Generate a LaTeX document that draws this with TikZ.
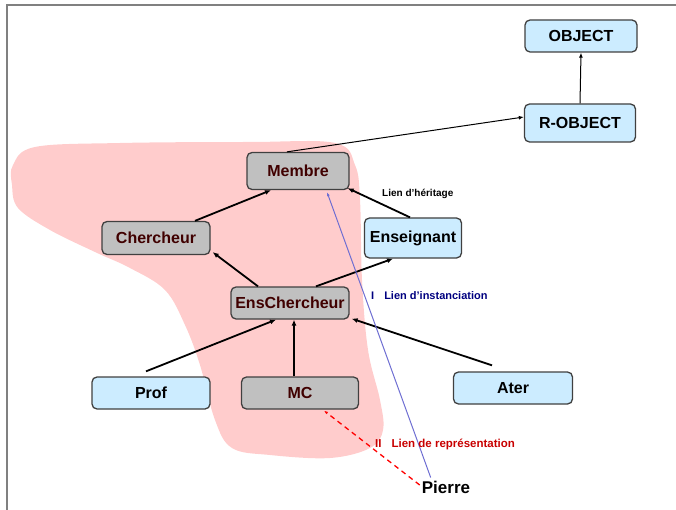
\documentclass[tikz,border=0pt]{standalone}
\usepackage{fontspec}
\setmainfont{Liberation Sans}
\usetikzlibrary{arrows.meta,calc}
\definecolor{blobpink}{RGB}{255,204,204}
\definecolor{boxgray}{RGB}{192,192,192}
\definecolor{boxblue}{RGB}{204,236,255}
\definecolor{boxedge}{RGB}{64,64,64}
\definecolor{maroontext}{RGB}{64,0,0}
\definecolor{instblue}{RGB}{110,110,210}
\definecolor{navytext}{RGB}{0,0,128}
\definecolor{redtext}{RGB}{200,0,0}
\definecolor{framegray}{RGB}{128,128,128}
\tikzset{
  classbox/.style={draw=boxedge, line width=1.3pt, rounded corners=5pt,
    font=\fontsize{16}{16}\selectfont\bfseries, inner sep=0pt},
  graybox/.style={classbox, fill=boxgray, text=maroontext},
  bluebox/.style={classbox, fill=boxblue, text=black},
  inherit/.style={line width=1.8pt, -{Latex[length=6pt,width=5pt]}},
  thinarrow/.style={line width=1pt, -{Latex[length=5pt,width=4pt]}},
  smalllabel/.style={anchor=west, font=\fontsize{10}{10}\selectfont\bfseries, inner sep=0pt}
}
\begin{document}
\begin{tikzpicture}[x=1pt,y=-1pt]
  \useasboundingbox (0,0) rectangle (676,510);
  % frame edges
  \draw[framegray, line width=1.5pt] (7,510) -- (7,5) -- (676,5);

  % highlighted region behind the researcher classes
  \fill[blobpink] plot[smooth cycle, tension=0.6] coordinates {
    (13,165) (35,147) (120,143) (250,142) (335,143) (355,165) (360,200)
    (362,280) (368,350) (380,400) (383,430) (370,448) (330,458) (270,455)
    (232,448) (215,420) (200,365) (185,325) (165,290) (130,268) (95,252)
    (50,230) (18,208) (12,185)};

  % classes
  \node[bluebox, minimum width=112pt, minimum height=32pt] (obj)  at (581,36)  {OBJECT};
  \node[bluebox, minimum width=111pt, minimum height=38pt] (rob)  at (580,123) {R-OBJECT};
  \node[graybox, minimum width=102pt, minimum height=37pt] (memb) at (298,171) {Membre};
  \node[graybox, minimum width=108pt, minimum height=33pt] (ch)   at (156,238) {Chercheur};
  \node[bluebox, minimum width=97pt,  minimum height=40pt] (ens)  at (413,238) {Enseignant};
  \node[graybox, minimum width=118pt, minimum height=32pt] (ench) at (290,303) {EnsChercheur};
  \node[bluebox, minimum width=118pt, minimum height=32pt] (prof) at (151,393) {Prof};
  \node[graybox, minimum width=117pt, minimum height=32pt] (mc)   at (300,393) {MC};
  \node[bluebox, minimum width=119pt, minimum height=32pt] (ater) at (513,388) {Ater};

  % instance
  \node[font=\fontsize{17}{17}\selectfont\bfseries, inner sep=1pt] (pierre) at (446,487) {Pierre};

  % inheritance links
  \draw[thinarrow] ($(memb.north)+(-11,0)$) -- ($(rob.west)+(0,-6)$);
  \draw[thinarrow] (rob.north) -- (obj.south);
  \draw[inherit] ($(ch.north)+(39,0)$) -- ($(memb.south)+(-27,0)$);
  \draw[inherit] ($(ens.north)+(-3,0)$) -- ($(memb.south east)+(-2,-2)$);
  \draw[inherit] ($(ench.north)+(-32,0)$) -- ($(ch.south east)+(2,-3)$);
  \draw[inherit] ($(ench.north)+(26,0)$) -- ($(ens.south)+(-20,0)$);
  \draw[inherit] ($(prof.north)+(-5,-5)$) -- ($(ench.south)+(-14,0)$);
  \draw[inherit] ($(mc.north)+(-6,0)$) -- ($(ench.south)+(4,0)$);
  \draw[inherit] ($(ater.north)+(-21,-6)$) -- ($(ench.south east)+(2,-1)$);

  % instantiation and representation links
  \draw[instblue, line width=1pt, -{Latex[length=4pt,width=3pt]}]
    ($(pierre.north west)+(10,-2)$) -- ($(memb.south)+(29,2)$);
  \draw[red, line width=1.3pt, dashed, dash pattern=on 5pt off 4pt, -{Latex[length=4pt,width=3pt]}]
    ($(pierre.west)+(-1,-2)$) -- ($(mc.south)+(24,1)$);

  % legend labels
  \node[smalllabel] (lh) at (382,194) {Lien d'héritage};
  \node[smalllabel, text=navytext, font=\fontsize{11}{11}\selectfont\bfseries] (li) at (371,296) {I\hspace{10pt}Lien d'instanciation};
  \node[smalllabel, text=redtext, font=\fontsize{11.5}{11.5}\selectfont\bfseries] (lr) at (375,444) {II\hspace{10pt}Lien de représentation};
\end{tikzpicture}
\end{document}
